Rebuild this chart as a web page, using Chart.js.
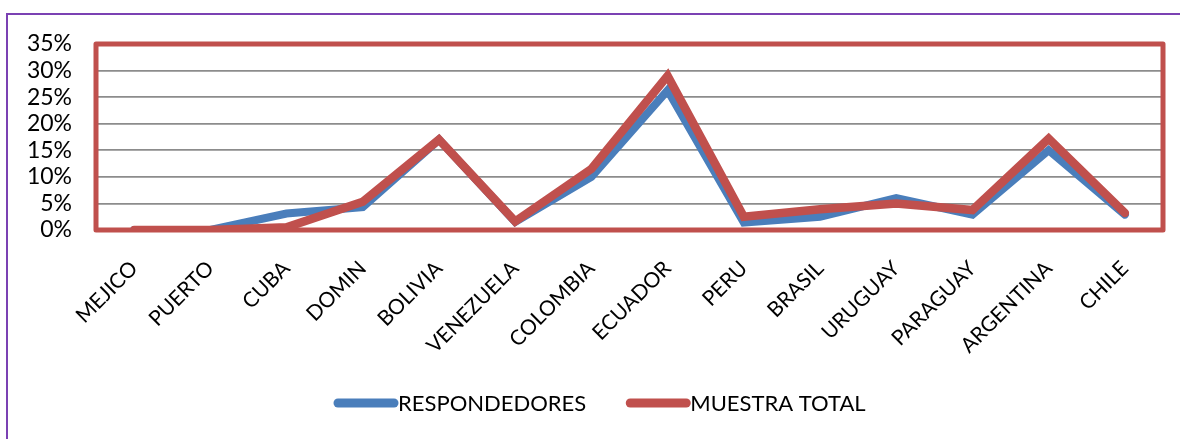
<!DOCTYPE html>
<html>
<head>
<meta charset="utf-8">
<script src="https://cdn.jsdelivr.net/npm/chart.js@4/dist/chart.umd.min.js"></script>
<style>
  html, body { margin: 0; padding: 0; background: #ffffff; overflow: hidden; }
  #wrap { position: relative; width: 1180px; height: 439px; }
  #frame { position: absolute; left: 6px; top: 13px; width: 1400px; height: 600px;
           border-left: 2px solid #7b41b3; border-top: 2px solid #7b41b3; box-sizing: border-box; }
  canvas { position: absolute; left: 0; top: 0; }
</style>
</head>
<body>
<div id="wrap">
  <div id="frame"></div>
  <canvas id="c" width="1180" height="439"></canvas>
</div>
<script>
const categories = ["MEJICO","PUERTO","CUBA","DOMIN","BOLIVIA","VENEZUELA","COLOMBIA","ECUADOR","PERU","BRASIL","URUGUAY","PARAGUAY","ARGENTINA","CHILE"];
const respondedores = [0, 0, 3.1, 4.3, 17, 1.5, 10, 26.3, 1.4, 2.5, 6.0, 2.9, 15, 2.9];
const muestraTotal  = [0, 0, 0.5, 5.3, 17, 1.6, 11.5, 29, 2.5, 3.9, 5.0, 3.75, 17.2, 3.2];
const seriesNames = ["RESPONDEDORES", "MUESTRA TOTAL"];
const yTicks = [0, 5, 10, 15, 20, 25, 30, 35];

const FONT = "Lato, 'Open Sans', sans-serif";
const BLUE = "#4a7ebb";
const RED = "#c0504d";

const plotFrame = {
  id: 'plotFrame',
  beforeDatasetsDraw(chart) {
    const a = chart.chartArea, ctx = chart.ctx;
    ctx.save();
    ctx.strokeStyle = RED;
    ctx.lineWidth = 5;
    ctx.lineJoin = 'round';
    ctx.strokeRect(a.left, a.top, a.right - a.left, a.bottom - a.top);
    ctx.restore();
  }
};

const customLegend = {
  id: 'customLegend',
  afterDraw(chart) {
    const ctx = chart.ctx;
    ctx.save();
    ctx.font = "22px " + FONT;
    ctx.textBaseline = 'middle';
    ctx.fillStyle = '#000';
    const y = 403;
    let x = 338;
    chart.data.datasets.forEach((ds, i) => {
      ctx.strokeStyle = ds.borderColor;
      ctx.lineWidth = 9;
      ctx.lineCap = 'round';
      ctx.beginPath();
      ctx.moveTo(x, y);
      ctx.lineTo(x + 56, y);
      ctx.stroke();
      const tx = x + 60;
      ctx.fillText(ds.label, tx, y + 1);
      x = tx + ctx.measureText(ds.label).width + 44;
    });
    ctx.restore();
  }
};

new Chart(document.getElementById('c'), {
  type: 'line',
  data: {
    labels: categories,
    datasets: [
      { label: seriesNames[0], data: respondedores, borderColor: BLUE, backgroundColor: BLUE, order: 2,
        borderWidth: 8, pointRadius: 0, tension: 0, borderCapStyle: 'round', borderJoinStyle: 'miter' },
      { label: seriesNames[1], data: muestraTotal, borderColor: RED, backgroundColor: RED, order: 1,
        borderWidth: 8.5, pointRadius: 0, tension: 0, borderCapStyle: 'round', borderJoinStyle: 'miter' }
    ]
  },
  options: {
    responsive: false,
    animation: false,
    layout: { padding: { top: 44, right: 17, bottom: 0, left: 0 } },
    plugins: { legend: { display: false }, tooltip: { enabled: false } },
    scales: {
      x: {
        offset: true,
        grid: { display: false, drawTicks: false },
        border: { display: false },
        ticks: { autoSkip: false, minRotation: 45, maxRotation: 45, padding: 26,
                 color: '#000', font: { family: FONT, size: 21 } },
        afterFit(scale) { scale.height = 209; }
      },
      y: {
        min: 0, max: 35,
        afterBuildTicks(scale) { scale.ticks = yTicks.map(v => ({ value: v })); },
        grid: { color: '#8c8c8c', lineWidth: 1.8, drawTicks: false },
        border: { display: false },
        ticks: { autoSkip: false, padding: 24, color: '#000', font: { family: FONT, size: 23 },
                 callback: v => v + '%' },
        afterFit(scale) { scale.width = 96; }
      }
    }
  },
  plugins: [plotFrame, customLegend]
});
</script>
</body>
</html>
